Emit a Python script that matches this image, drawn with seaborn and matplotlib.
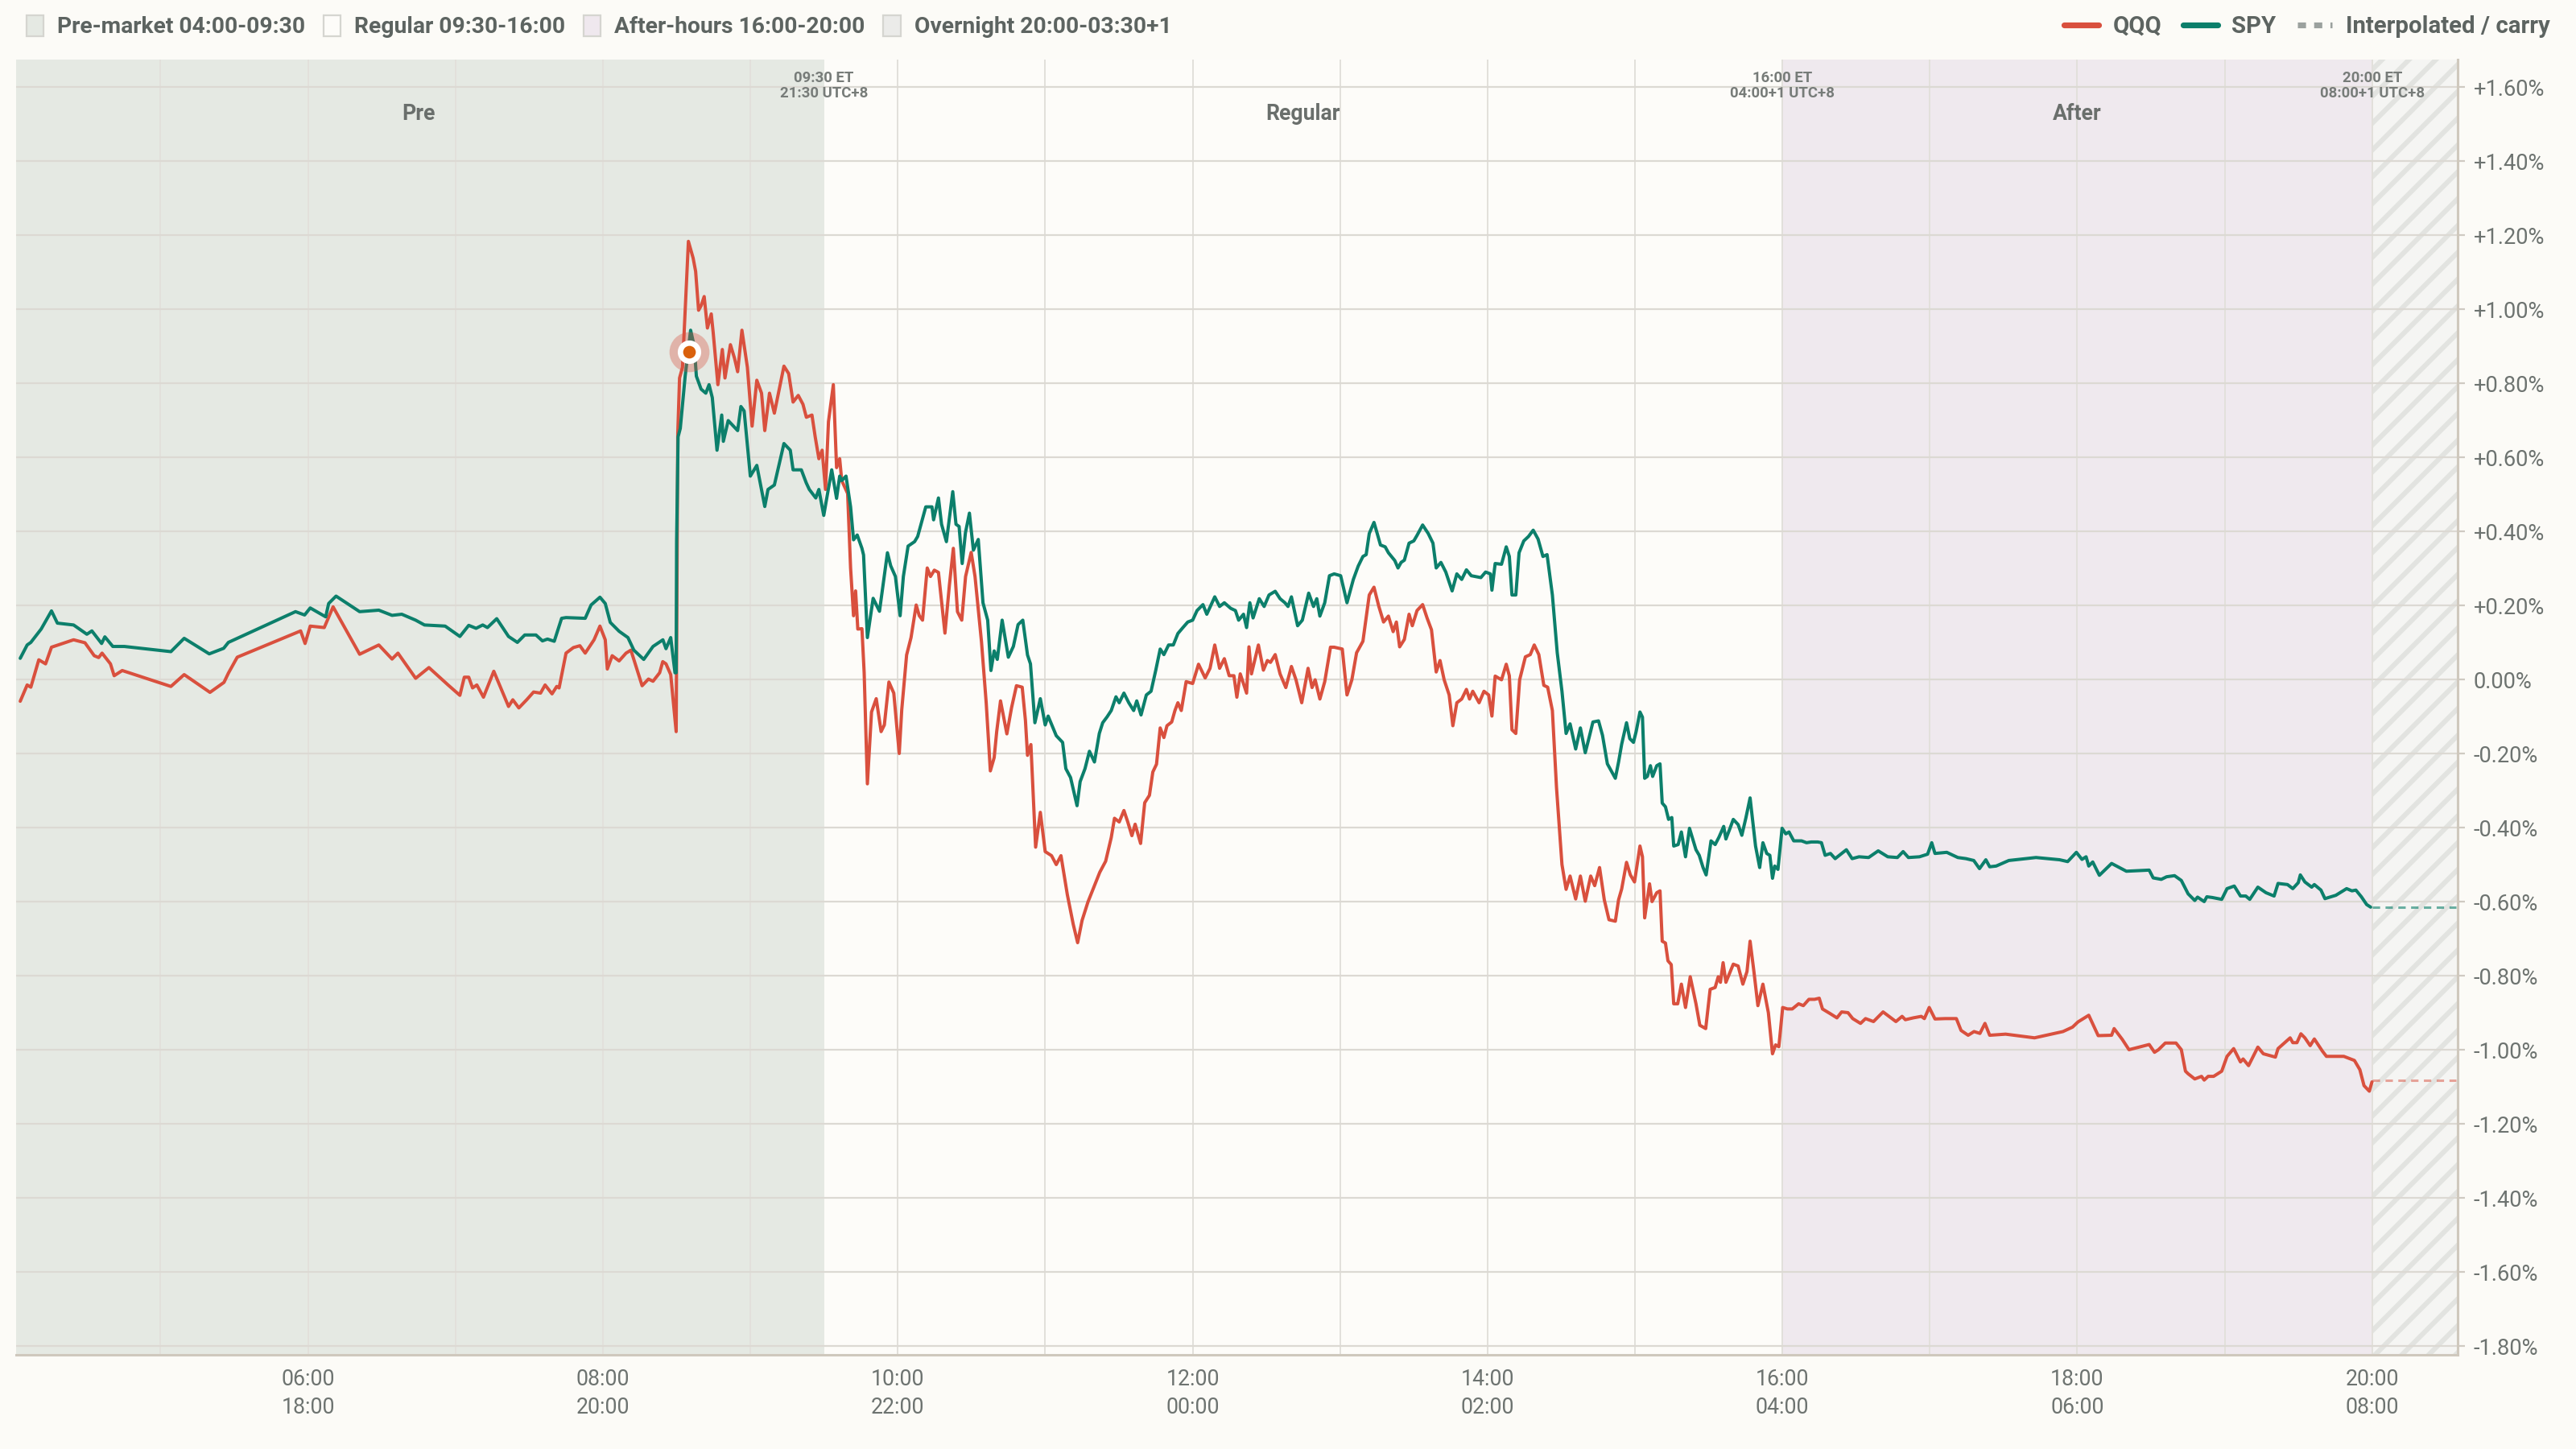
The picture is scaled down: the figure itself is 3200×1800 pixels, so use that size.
import pandas as pd
import matplotlib
matplotlib.use("Agg")
import matplotlib.pyplot as plt
import matplotlib.transforms as mtransforms
from matplotlib.patches import Patch
from matplotlib.lines import Line2D
import seaborn as sns

# Intraday % change vs. prior close, time in ET hours (decimal)
qqq_t = [4.048, 4.095, 4.12, 4.174, 4.22, 4.26, 4.41, 4.487, 4.55, 4.58, 4.603, 4.66, 4.685, 4.74,
         5.07, 5.16, 5.335, 5.43, 5.46, 5.52, 5.95, 5.98, 6.015, 6.11, 6.17, 6.35, 6.48, 6.57, 6.61,
         6.73, 6.82, 6.95, 7.03, 7.06, 7.09, 7.116, 7.145, 7.19, 7.26, 7.36, 7.389, 7.43, 7.483, 7.53,
         7.577, 7.608, 7.655, 7.687, 7.703, 7.75, 7.80, 7.844, 7.88, 7.94, 7.98, 8.016, 8.03, 8.063,
         8.11, 8.157, 8.19, 8.266, 8.309, 8.34, 8.385, 8.406, 8.428, 8.46, 8.497, 8.508, 8.52, 8.54,
         8.58, 8.612, 8.629, 8.649, 8.666, 8.687, 8.709, 8.735, 8.748, 8.78, 8.81, 8.828, 8.865, 8.893,
         8.914, 8.943, 8.98, 9.012, 9.044, 9.076, 9.098, 9.13, 9.163, 9.228, 9.26, 9.29, 9.325, 9.357,
         9.38, 9.418, 9.44, 9.465, 9.487, 9.51, 9.53, 9.563, 9.585, 9.606, 9.62, 9.66, 9.68, 9.70,
         9.714, 9.729, 9.757, 9.772, 9.794, 9.822, 9.854, 9.887, 9.909, 9.94, 9.973, 10.01, 10.027,
         10.06, 10.09, 10.125, 10.146, 10.168, 10.2, 10.222, 10.248, 10.276, 10.32, 10.35, 10.377,
         10.405, 10.434, 10.46, 10.498, 10.524, 10.568, 10.6, 10.628, 10.654, 10.671, 10.697, 10.74,
         10.772, 10.805, 10.844, 10.866, 10.88, 10.903, 10.935, 10.967, 11.0, 11.043, 11.075, 11.107,
         11.15, 11.19, 11.22, 11.25, 11.29, 11.33, 11.37, 11.41, 11.448, 11.47, 11.502, 11.534, 11.56,
         11.588, 11.61, 11.647, 11.675, 11.707, 11.73, 11.755, 11.78, 11.805, 11.826, 11.858, 11.88,
         11.9, 11.923, 11.956, 12.0, 12.04, 12.085, 12.118, 12.15, 12.183, 12.215, 12.248, 12.28, 12.3,
         12.323, 12.366, 12.382, 12.399, 12.446, 12.48, 12.507, 12.528, 12.56, 12.593, 12.632, 12.67,
         12.701, 12.74, 12.783, 12.81, 12.831, 12.863, 12.896, 12.935, 12.96, 13.015, 13.047, 13.08,
         13.112, 13.155, 13.198, 13.23, 13.263, 13.295, 13.328, 13.36, 13.382, 13.404, 13.436, 13.468,
         13.49, 13.522, 13.56, 13.59, 13.62, 13.652, 13.678, 13.706, 13.74, 13.765, 13.792, 13.825,
         13.857, 13.878, 13.9, 13.943, 13.976, 14.008, 14.03, 14.052, 14.095, 14.127, 14.148, 14.166,
         14.192, 14.218, 14.257, 14.29, 14.317, 14.348, 14.382, 14.408, 14.44, 14.468, 14.505, 14.533,
         14.56, 14.598, 14.63, 14.663, 14.7, 14.727, 14.76, 14.792, 14.824, 14.867, 14.889, 14.91,
         14.943, 14.969, 14.997, 15.034, 15.051, 15.066, 15.099, 15.116, 15.148, 15.17, 15.185, 15.207,
         15.224, 15.246, 15.263, 15.29, 15.315, 15.343, 15.375, 15.414, 15.44, 15.48, 15.51, 15.544,
         15.565, 15.58, 15.598, 15.617, 15.667, 15.7, 15.732, 15.76, 15.781, 15.807, 15.834, 15.868,
         15.905, 15.933, 15.954, 15.976, 16.002, 16.034, 16.067, 16.11, 16.142, 16.18, 16.218, 16.25,
         16.272, 16.326, 16.37, 16.402, 16.445, 16.477, 16.53, 16.564, 16.618, 16.683, 16.77, 16.812,
         16.834, 16.888, 16.942, 16.963, 16.996, 17.035, 17.104, 17.18, 17.212, 17.26, 17.3, 17.34,
         17.374, 17.406, 17.514, 17.71, 17.903, 17.968, 18.005, 18.078, 18.142, 18.233, 18.25, 18.305,
         18.351, 18.488, 18.524, 18.551, 18.597, 18.67, 18.706, 18.734, 18.752, 18.797, 18.843, 18.861,
         18.888, 18.925, 18.98, 19.016, 19.061, 19.107, 19.125, 19.162, 19.225, 19.262, 19.344, 19.362,
         19.444, 19.462, 19.49, 19.517, 19.544, 19.58, 19.608, 19.663, 19.69, 19.808, 19.88, 19.917,
         19.945, 19.981, 19.999]
qqq_v = [-0.058, -0.014, -0.020, 0.054, 0.043, 0.088, 0.108, 0.100, 0.065, 0.060, 0.072, 0.043, 0.011, 0.025,
         -0.018, 0.014, -0.034, -0.007, 0.018, 0.061, 0.132, 0.098, 0.145, 0.141, 0.197, 0.069, 0.094, 0.056, 0.072,
         0.004, 0.033, -0.014, -0.042, 0.007, 0.007, -0.022, -0.014, -0.047, 0.023, -0.072, -0.054, -0.076, -0.054, -0.033,
         -0.036, -0.014, -0.038, -0.018, -0.022, 0.072, 0.087, 0.092, 0.072, 0.108, 0.145, 0.108, 0.029, 0.065,
         0.051, 0.072, 0.080, -0.016, 0.002, -0.004, 0.019, 0.049, 0.043, 0.014, -0.140, 0.667, 0.815, 0.844,
         1.184, 1.139, 1.103, 0.998, 1.010, 1.035, 0.950, 0.988, 0.938, 0.797, 0.892, 0.815, 0.905, 0.868,
         0.832, 0.944, 0.844, 0.685, 0.809, 0.774, 0.673, 0.774, 0.720, 0.847, 0.827, 0.750, 0.768, 0.744,
         0.709, 0.715, 0.656, 0.597, 0.620, 0.514, 0.697, 0.797, 0.573, 0.597, 0.538, 0.503, 0.302, 0.173,
         0.240, 0.137, 0.138, 0.020, -0.281, -0.087, -0.051, -0.140, -0.122, -0.006, -0.036, -0.199, -0.081,
         0.067, 0.114, 0.202, 0.173, 0.161, 0.302, 0.279, 0.296, 0.290, 0.126, 0.255, 0.355,
         0.184, 0.161, 0.279, 0.344, 0.279, 0.102, -0.063, -0.246, -0.210, -0.140, -0.057, -0.146,
         -0.075, -0.016, -0.020, -0.110, -0.204, -0.175, -0.452, -0.358, -0.464, -0.475, -0.499, -0.475,
         -0.580, -0.660, -0.710, -0.650, -0.600, -0.560, -0.520, -0.490, -0.426, -0.374, -0.384, -0.353, -0.384,
         -0.421, -0.390, -0.442, -0.332, -0.312, -0.249, -0.228, -0.130, -0.156, -0.124, -0.114, -0.083,
         -0.062, -0.083, -0.005, -0.010, 0.042, 0.005, 0.031, 0.094, 0.031, 0.057, 0.011, 0.011, -0.047,
         0.016, -0.036, 0.089, 0.016, 0.094, 0.026, 0.052, 0.047, 0.068, 0.016, -0.021, 0.036,
         0.000, -0.062, 0.031, -0.021, 0.000, -0.052, -0.005, 0.088, 0.088, 0.083, -0.041, 0.000,
         0.073, 0.104, 0.229, 0.250, 0.198, 0.156, 0.172, 0.130, 0.156, 0.089, 0.109, 0.177,
         0.146, 0.187, 0.203, 0.167, 0.135, 0.021, 0.052, 0.000, -0.041, -0.124, -0.062, -0.052,
         -0.026, -0.052, -0.031, -0.062, -0.031, -0.041, -0.098, 0.010, 0.000, 0.042, 0.011, -0.135,
         -0.145, 0.000, 0.062, 0.068, 0.094, 0.068, -0.015, -0.020, -0.083, -0.291, -0.499, -0.566,
         -0.530, -0.592, -0.530, -0.598, -0.530, -0.556, -0.507, -0.594, -0.648, -0.652, -0.594, -0.565,
         -0.493, -0.527, -0.546, -0.449, -0.478, -0.643, -0.551, -0.599, -0.575, -0.570, -0.706, -0.711,
         -0.759, -0.769, -0.875, -0.875, -0.822, -0.885, -0.802, -0.875, -0.933, -0.942, -0.836, -0.831,
         -0.802, -0.817, -0.764, -0.817, -0.768, -0.773, -0.822, -0.788, -0.706, -0.788, -0.880, -0.822,
         -0.899, -1.010, -0.986, -0.991, -0.885, -0.889, -0.889, -0.875, -0.880, -0.863, -0.863, -0.860,
         -0.889, -0.902, -0.913, -0.897, -0.899, -0.915, -0.928, -0.915, -0.923, -0.897, -0.923, -0.909,
         -0.918, -0.913, -0.909, -0.915, -0.885, -0.916, -0.915, -0.915, -0.947, -0.960, -0.950, -0.955,
         -0.928, -0.960, -0.957, -0.967, -0.950, -0.938, -0.924, -0.906, -0.961, -0.960, -0.942, -0.971,
         -0.999, -0.985, -1.006, -0.999, -0.981, -0.981, -0.999, -1.057, -1.064, -1.078, -1.071, -1.081,
         -1.071, -1.071, -1.057, -1.017, -0.996, -1.032, -1.024, -1.042, -0.992, -1.010, -1.019, -0.996,
         -0.967, -0.980, -0.980, -0.956, -0.967, -0.988, -0.970, -1.003, -1.017, -1.017, -1.028, -1.053,
         -1.096, -1.111, -1.086]

spy_t = [4.048, 4.095, 4.12, 4.19, 4.26, 4.30, 4.41, 4.50, 4.534, 4.60, 4.622, 4.676, 4.754, 5.07,
         5.16, 5.33, 5.428, 5.46, 5.915, 5.977, 6.015, 6.12, 6.14, 6.19, 6.35, 6.48, 6.57, 6.636, 6.73,
         6.79, 6.93, 7.03, 7.09, 7.14, 7.185, 7.217, 7.28, 7.36, 7.42, 7.47, 7.546, 7.59, 7.624, 7.67,
         7.72, 7.75, 7.88, 7.92, 7.98, 8.016, 8.05, 8.11, 8.17, 8.21, 8.277, 8.34, 8.407, 8.428, 8.46,
         8.489, 8.497, 8.50, 8.51, 8.525, 8.558, 8.595, 8.62, 8.634, 8.666, 8.698, 8.72, 8.742, 8.774,
         8.806, 8.817, 8.85, 8.914, 8.936, 8.958, 9.0, 9.044, 9.098, 9.12, 9.163, 9.228, 9.271, 9.29,
         9.346, 9.379, 9.40, 9.444, 9.465, 9.498, 9.552, 9.585, 9.606, 9.62, 9.649, 9.68, 9.70, 9.725,
         9.757, 9.768, 9.794, 9.833, 9.876, 9.93, 9.952, 9.984, 10.016, 10.038, 10.07, 10.114, 10.135,
         10.19, 10.232, 10.243, 10.276, 10.297, 10.33, 10.373, 10.395, 10.416, 10.437, 10.459, 10.486,
         10.513, 10.546, 10.578, 10.61, 10.632, 10.654, 10.675, 10.708, 10.75, 10.784, 10.816, 10.848,
         10.88, 10.9, 10.93, 10.967, 11.0, 11.02, 11.075, 11.118, 11.14, 11.172, 11.216, 11.237, 11.27,
         11.30, 11.334, 11.367, 11.39, 11.42, 11.448, 11.48, 11.502, 11.534, 11.567, 11.60, 11.621,
         11.65, 11.686, 11.718, 11.75, 11.78, 11.805, 11.837, 11.869, 11.9, 11.934, 11.967, 12.0, 12.03,
         12.07, 12.096, 12.15, 12.183, 12.215, 12.258, 12.29, 12.312, 12.345, 12.366, 12.388, 12.41,
         12.452, 12.485, 12.518, 12.56, 12.593, 12.626, 12.647, 12.67, 12.712, 12.744, 12.787, 12.82,
         12.842, 12.863, 12.896, 12.928, 12.96, 13.004, 13.047, 13.09, 13.123, 13.155, 13.177, 13.198,
         13.23, 13.252, 13.274, 13.306, 13.328, 13.371, 13.393, 13.414, 13.436, 13.468, 13.50, 13.522,
         13.56, 13.598, 13.63, 13.652, 13.684, 13.717, 13.76, 13.792, 13.825, 13.857, 13.89, 13.955,
         13.987, 14.02, 14.03, 14.052, 14.095, 14.127, 14.148, 14.166, 14.192, 14.214, 14.246, 14.278,
         14.31, 14.343, 14.376, 14.404, 14.44, 14.473, 14.505, 14.533, 14.56, 14.598, 14.63, 14.663,
         14.689, 14.715, 14.753, 14.78, 14.813, 14.846, 14.867, 14.889, 14.91, 14.943, 14.965, 14.99,
         15.008, 15.034, 15.051, 15.066, 15.084, 15.105, 15.12, 15.148, 15.17, 15.185, 15.207, 15.228,
         15.25, 15.263, 15.293, 15.315, 15.343, 15.37, 15.414, 15.436, 15.462, 15.483, 15.516, 15.544,
         15.57, 15.602, 15.617, 15.645, 15.667, 15.7, 15.725, 15.753, 15.781, 15.818, 15.846, 15.868,
         15.894, 15.915, 15.933, 15.948, 15.97, 15.998, 16.023, 16.045, 16.077, 16.13, 16.164, 16.196,
         16.24, 16.265, 16.29, 16.326, 16.358, 16.434, 16.473, 16.52, 16.585, 16.65, 16.715, 16.78,
         16.819, 16.855, 16.93, 16.985, 17.013, 17.035, 17.115, 17.19, 17.245, 17.298, 17.337, 17.38,
         17.406, 17.45, 17.536, 17.72, 17.88, 17.935, 17.994, 18.032, 18.06, 18.078, 18.105, 18.15,
         18.233, 18.333, 18.488, 18.515, 18.57, 18.606, 18.66, 18.706, 18.752, 18.797, 18.816, 18.861,
         18.879, 18.916, 18.98, 19.016, 19.065, 19.107, 19.143, 19.17, 19.225, 19.28, 19.335, 19.362,
         19.426, 19.462, 19.499, 19.513, 19.544, 19.59, 19.608, 19.653, 19.68, 19.754, 19.827, 19.863,
         19.89, 19.927, 19.963, 19.99]
spy_v = [0.058, 0.094, 0.101, 0.137, 0.186, 0.153, 0.148, 0.123, 0.132, 0.098, 0.116, 0.090, 0.090, 0.076,
         0.112, 0.070, 0.085, 0.101, 0.184, 0.175, 0.194, 0.170, 0.206, 0.226, 0.184, 0.188, 0.174, 0.177, 0.161,
         0.148, 0.145, 0.117, 0.147, 0.139, 0.148, 0.141, 0.165, 0.117, 0.101, 0.121, 0.121, 0.105, 0.110, 0.104,
         0.166, 0.168, 0.166, 0.202, 0.223, 0.206, 0.155, 0.131, 0.114, 0.080, 0.055, 0.090, 0.108, 0.084, 0.114,
         0.019, 0.019, 0.373, 0.656, 0.679, 0.820, 0.944, 0.900, 0.820, 0.785, 0.774, 0.797, 0.762, 0.620,
         0.715, 0.644, 0.700, 0.673, 0.738, 0.726, 0.550, 0.579, 0.468, 0.514, 0.526, 0.638, 0.620, 0.567,
         0.567, 0.532, 0.514, 0.491, 0.514, 0.444, 0.567, 0.490, 0.550, 0.538, 0.550, 0.467, 0.378, 0.391,
         0.355, 0.337, 0.114, 0.220, 0.185, 0.343, 0.308, 0.279, 0.173, 0.279, 0.361, 0.373, 0.387,
         0.467, 0.467, 0.432, 0.491, 0.420, 0.373, 0.508, 0.420, 0.414, 0.314, 0.397, 0.450,
         0.350, 0.379, 0.208, 0.161, 0.025, 0.078, 0.055, 0.161, 0.061, 0.090, 0.149, 0.161,
         0.067, 0.043, -0.116, -0.051, -0.122, -0.098, -0.151, -0.169, -0.240, -0.264, -0.340, -0.275, -0.240,
         -0.193, -0.222, -0.145, -0.116, -0.100, -0.083, -0.046, -0.062, -0.036, -0.062, -0.083, -0.057,
         -0.095, -0.041, -0.031, 0.026, 0.083, 0.068, 0.094, 0.094, 0.125, 0.141, 0.156, 0.161, 0.187,
         0.203, 0.177, 0.224, 0.198, 0.208, 0.193, 0.187, 0.161, 0.177, 0.141, 0.208, 0.167,
         0.219, 0.198, 0.229, 0.239, 0.219, 0.208, 0.198, 0.224, 0.146, 0.161, 0.234, 0.198,
         0.219, 0.172, 0.208, 0.281, 0.286, 0.281, 0.208, 0.271, 0.307, 0.333, 0.338, 0.395,
         0.425, 0.395, 0.364, 0.359, 0.343, 0.322, 0.302, 0.317, 0.323, 0.369, 0.375, 0.390,
         0.418, 0.395, 0.369, 0.302, 0.317, 0.291, 0.240, 0.286, 0.271, 0.297, 0.281, 0.276,
         0.291, 0.286, 0.242, 0.314, 0.312, 0.359, 0.333, 0.229, 0.229, 0.343, 0.375, 0.387,
         0.404, 0.380, 0.333, 0.338, 0.229, 0.073, -0.031, -0.145, -0.119, -0.187, -0.130, -0.197,
         -0.156, -0.114, -0.111, -0.150, -0.227, -0.251, -0.266, -0.222, -0.174, -0.116, -0.159, -0.169,
         -0.140, -0.087, -0.101, -0.266, -0.261, -0.232, -0.261, -0.232, -0.227, -0.333, -0.343, -0.377,
         -0.372, -0.449, -0.445, -0.411, -0.478, -0.401, -0.459, -0.474, -0.507, -0.527, -0.435, -0.445,
         -0.425, -0.396, -0.430, -0.401, -0.377, -0.391, -0.420, -0.372, -0.319, -0.449, -0.507, -0.440,
         -0.469, -0.474, -0.536, -0.503, -0.512, -0.401, -0.416, -0.411, -0.435, -0.435, -0.440, -0.438,
         -0.438, -0.440, -0.474, -0.469, -0.483, -0.459, -0.483, -0.478, -0.480, -0.462, -0.478, -0.480,
         -0.464, -0.480, -0.478, -0.471, -0.440, -0.469, -0.466, -0.480, -0.483, -0.488, -0.510, -0.486,
         -0.505, -0.503, -0.488, -0.480, -0.486, -0.491, -0.466, -0.485, -0.478, -0.503, -0.492, -0.528,
         -0.496, -0.517, -0.514, -0.535, -0.539, -0.532, -0.529, -0.542, -0.578, -0.596, -0.587, -0.599,
         -0.586, -0.588, -0.593, -0.564, -0.557, -0.584, -0.584, -0.593, -0.560, -0.575, -0.584, -0.550,
         -0.553, -0.564, -0.548, -0.527, -0.546, -0.560, -0.553, -0.568, -0.591, -0.582, -0.564, -0.570,
         -0.568, -0.586, -0.607, -0.614]

# carried value through the overnight gap
carry_t = [20.0, 20.57]
qqq_carry = [-1.082, -1.082]
spy_carry = [-0.614, -0.614]

# highlighted point
mark_t = [8.585]
mark_v = [0.885]

session_labels = ["Pre-market 04:00-09:30", "Regular 09:30-16:00",
                  "After-hours 16:00-20:00", "Overnight 20:00-03:30+1"]
session_short = ["Pre", "Regular", "After"]
session_start = [4.0, 9.5, 16.0, 20.0]
session_end = [9.5, 16.0, 20.0, 20.6]
boundary_t = [9.5, 16.0, 20.0]
boundary_et = ["09:30 ET", "16:00 ET", "20:00 ET"]
boundary_local = ["21:30 UTC+8", "04:00+1 UTC+8", "08:00+1 UTC+8"]

y_ticks = [-1.8, -1.6, -1.4, -1.2, -1.0, -0.8, -0.6, -0.4, -0.2, 0.0,
           0.2, 0.4, 0.6, 0.8, 1.0, 1.2, 1.4, 1.6]
x_major = [6, 8, 10, 12, 14, 16, 18, 20]
x_minor = list(range(5, 21))

RED = "#d9503e"
TEAL = "#0c7f6b"
TXT = "#5d6461"
TICK = "#6d7370"
BG = "#fcfbf7"
session_colors = ["#e5e9e3", "#fdfcf9", "#efe9ee", "#f5f5f3"]
legend_box_colors = ["#e5e9e3", "#fdfcf9", "#efe8ee", "#ebebe9"]

sns.set_theme(style="white")
plt.rcParams["font.family"] = ["Roboto", "DejaVu Sans"]
plt.rcParams["hatch.linewidth"] = 2.2

fig = plt.figure(figsize=(16, 9), dpi=200, facecolor=BG)
ax = fig.add_axes([0.00625, 0.065, 0.9478, 0.8939])
ax.set_facecolor(session_colors[1])

# session backgrounds
for i in [0, 2]:
    ax.axvspan(session_start[i], session_end[i], color=session_colors[i], lw=0, zorder=0)
ax.axvspan(session_start[3], session_end[3], facecolor=session_colors[3],
           edgecolor="#e2e3e0", hatch="//", lw=0, zorder=0)

df = pd.concat([
    pd.DataFrame({"t": qqq_t, "v": qqq_v, "sym": "QQQ"}),
    pd.DataFrame({"t": spy_t, "v": spy_v, "sym": "SPY"}),
])
sns.lineplot(data=df, x="t", y="v", hue="sym", palette={"QQQ": RED, "SPY": TEAL},
             estimator=None, linewidth=1.45, legend=False, ax=ax, zorder=3)

sns.lineplot(x=carry_t, y=spy_carry, color=TEAL, alpha=0.6, linewidth=1.1,
             dashes=(3.0, 2.2), ax=ax, zorder=3)
sns.lineplot(x=carry_t, y=qqq_carry, color=RED, alpha=0.5, linewidth=1.1,
             dashes=(3.0, 2.2), ax=ax, zorder=3)

ax.scatter(mark_t, mark_v, s=320, color=RED, alpha=0.35, lw=0, zorder=4)
ax.scatter(mark_t, mark_v, s=110, color="white", lw=0, zorder=5)
ax.scatter(mark_t, mark_v, s=32, color="#d9600c", lw=0, zorder=6)

ax.set_xlim(4.02, 20.58)
ax.set_ylim(-1.823, 1.675)
ax.set_xlabel("")
ax.set_ylabel("")

# axes: y on the right, two-line x labels (ET / UTC+8)
ax.yaxis.tick_right()
ax.set_yticks(y_ticks)
ax.set_yticklabels(["0.00%" if abs(v) < 1e-9 else f"{v:+.2f}%" for v in y_ticks])
ax.set_xticks(x_minor, minor=True)
ax.set_xticks(x_major, labels=[f"{h:02d}:00\n{(h + 12) % 24:02d}:00" for h in x_major],
              linespacing=1.4)
ax.tick_params(axis="y", which="major", length=3.2, width=0.8, color="#cfcac2",
               pad=4, labelsize=9.8, labelcolor=TICK, right=True, left=False)
ax.tick_params(axis="x", which="both", length=0, pad=6, labelsize=9.6, labelcolor=TICK)

ax.set_axisbelow(True)
ax.grid(axis="y", which="major", color="#dcd9d3", lw=0.8)
ax.grid(axis="x", which="both", color="#e2e0db", lw=0.7)

for s in ["left", "top"]:
    ax.spines[s].set_visible(False)
for s in ["right", "bottom"]:
    ax.spines[s].set_color("#cfc8bd")
    ax.spines[s].set_linewidth(1.1)

# session names and boundary times
trans = mtransforms.blended_transform_factory(ax.transData, ax.transAxes)
for name, a, b in zip(session_short, session_start, session_end):
    ax.text((a + b) / 2, 0.958, name, transform=trans, ha="center", va="center",
            fontsize=9.6, fontweight="bold", color="#6a6f6c")
for t, et, loc in zip(boundary_t, boundary_et, boundary_local):
    ax.text(t, 0.991, f"{et}\n{loc}", transform=trans, ha="center", va="top",
            fontsize=6.7, fontweight="bold", color="#777c79", linespacing=1.05)

# legends
box_handles = [Patch(facecolor=c, edgecolor="#d5d5d0", linewidth=0.8) for c in legend_box_colors]
fig.legend(box_handles, session_labels, loc="center left", bbox_to_anchor=(0.0103, 0.9817),
           ncol=4, frameon=False, handlelength=0.75, handleheight=1.05, handletextpad=0.6,
           columnspacing=0.8, borderpad=0, borderaxespad=0, labelcolor=TXT,
           prop={"weight": "bold", "size": 10.2})

line_handles = [Line2D([], [], color=RED, lw=2.6, solid_capstyle="round"),
                Line2D([], [], color=TEAL, lw=2.6, solid_capstyle="round"),
                Line2D([], [], color="#9ba19e", lw=2.6, dashes=(1.4, 1.4))]
fig.legend(line_handles, ["QQQ", "SPY", "Interpolated / carry"], loc="center right",
           bbox_to_anchor=(0.99, 0.9817), ncol=3, frameon=False, handlelength=1.45,
           handletextpad=0.6, columnspacing=0.9, borderpad=0, borderaxespad=0,
           labelcolor=TXT, prop={"weight": "bold", "size": 10.6})

fig.savefig("out.png", dpi=200, facecolor=BG)
